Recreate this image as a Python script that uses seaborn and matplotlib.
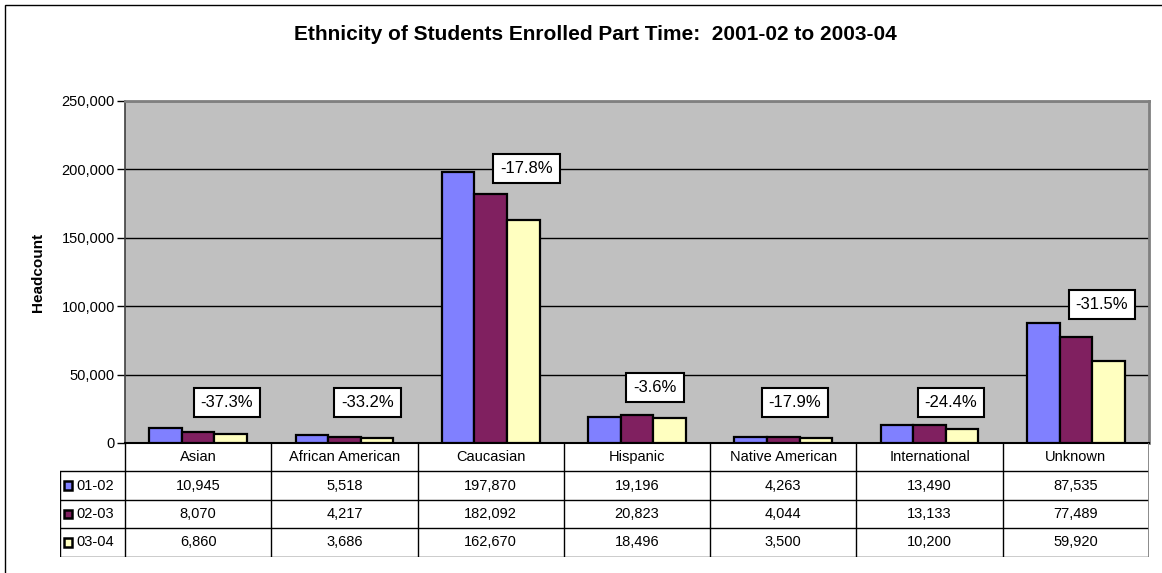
import numpy as np
import pandas as pd
import matplotlib
matplotlib.use("Agg")
import matplotlib.pyplot as plt
import seaborn as sns
from matplotlib.patches import Rectangle
from matplotlib.lines import Line2D

# ---------------- data ----------------
categories = ["Asian", "African American", "Caucasian", "Hispanic",
              "Native American", "International", "Unknown"]
years = ["01-02", "02-03", "03-04"]
v0102 = [10945, 5518, 197870, 19196, 4263, 13490, 87535]
v0203 = [8070, 4217, 182092, 20823, 4044, 13133, 77489]
v0304 = [6860, 3686, 162670, 18496, 3500, 10200, 59920]
yticks = [0, 50000, 100000, 150000, 200000, 250000]

# ---------------- layout / style ----------------
colors = ["#8080FF", "#802060", "#FFFFC0"]
# annotation box centers: (x offset from category centre, y in data units)
label_dx = [0.197, 0.158, 0.246, 0.123, 0.080, 0.146, 0.179]
label_y = [29240, 29240, 200300, 40900, 29240, 29240, 101200]
FS = 10.5

sns.set_theme(style="white")
plt.rcParams["font.family"] = ["Liberation Sans", "DejaVu Sans"]
plt.rcParams["text.color"] = "black"
plt.rcParams["axes.labelcolor"] = "black"
plt.rcParams["xtick.color"] = "black"
plt.rcParams["ytick.color"] = "black"

W, H = 1162, 573
fig = plt.figure(figsize=(W / 100, H / 100), dpi=100)
fig.patch.set_facecolor("white")

# outer chart border (cropped at right/bottom)
fig.add_artist(Rectangle((5 / W, -0.05), 1.2, 1 - 5 / H + 0.05,
                         transform=fig.transFigure, fill=False,
                         edgecolor="black", linewidth=1.0))

px_l, px_r, px_t, px_b = 125, 1149, 101, 443
ax = fig.add_axes([px_l / W, 1 - px_b / H, (px_r - px_l) / W, (px_b - px_t) / H])

df = pd.DataFrame({
    "Ethnicity": categories * 3,
    "Year": [years[0]] * 7 + [years[1]] * 7 + [years[2]] * 7,
    "Headcount": v0102 + v0203 + v0304,
})

sns.barplot(data=df, x="Ethnicity", y="Headcount", hue="Year",
            order=categories, hue_order=years, palette=colors,
            width=0.667, edgecolor="black", linewidth=1.6,
            saturation=1, legend=False, ax=ax, zorder=3)

ax.set_facecolor("#C0C0C0")
ax.set_xlim(-0.5, 6.5)
ax.set_ylim(0, 250000)
ax.set_yticks(yticks)
ax.set_yticklabels([f"{t:,}" for t in yticks], fontsize=FS, color="black")
ax.set_xticks([])
ax.set_xlabel("")
ax.set_ylabel("Headcount", fontsize=11, fontweight="bold", labelpad=12,
              color="black")
ax.yaxis.grid(True, color="black", linewidth=1.0, zorder=0)
ax.set_axisbelow(True)
ax.tick_params(axis="y", which="major", direction="out", length=5.8,
               width=1, color="black", pad=1.5, left=True)
for side in ["top", "right"]:
    ax.spines[side].set_color("#808080")
    ax.spines[side].set_linewidth(2)
ax.spines["left"].set_color("#404040")
ax.spines["left"].set_linewidth(1.2)
ax.spines["bottom"].set_color("black")
ax.spines["bottom"].set_linewidth(1.5)

# percent change labels
for i, cat in enumerate(categories):
    pct = (v0304[i] - v0102[i]) / v0102[i] * 100
    ax.text(i + label_dx[i], label_y[i], f"{pct:.1f}%", ha="center", va="center",
            fontsize=12, zorder=5, color="black",
            bbox=dict(boxstyle="square,pad=0.42", facecolor="white",
                      edgecolor="black", linewidth=1.5))

fig.suptitle("Ethnicity of Students Enrolled Part Time:  2001-02 to 2003-04",
             x=0.512, y=1 - 34 / H, va="center", fontsize=15, fontweight="bold",
             color="black")

# ---------------- data table ----------------
tb_l, tb_t, tb_b = 60, 443, 556.5
tax = fig.add_axes([tb_l / W, 1 - tb_b / H, (px_r - tb_l) / W, (tb_b - tb_t) / H])
xleft = -0.5 - (px_l - tb_l) / ((px_r - px_l) / 7)
tax.set_xlim(xleft, 6.5)
tax.set_ylim(4, 0)
tax.axis("off")

lc = "black"
lw = 1.0
for r in range(1, 5):
    tax.add_line(Line2D([xleft, 6.5], [r, r], color=lc, linewidth=lw))
for k in range(8):
    col = "#808080" if k == 7 else lc
    tax.add_line(Line2D([-0.5 + k, -0.5 + k], [0, 4], color=col,
                        linewidth=2 if k == 7 else lw))
tax.add_line(Line2D([xleft, xleft], [1, 4], color=lc, linewidth=lw))

for i, cat in enumerate(categories):
    tax.text(i, 0.5, cat, ha="center", va="center", fontsize=FS, color="black")

cat_px = (px_r - px_l) / 7
series = [v0102, v0203, v0304]
for r, (yr, vals) in enumerate(zip(years, series)):
    yc = r + 1.5
    sq_w = 8.5 / cat_px
    sq_h = 8.5 / 28.4
    tax.add_patch(Rectangle((xleft + 3.5 / cat_px, yc - sq_h / 2), sq_w, sq_h,
                            facecolor=colors[r], edgecolor="black",
                            linewidth=1.8, transform=tax.transData))
    tax.text(xleft + 16.5 / cat_px, yc, yr, ha="left", va="center", fontsize=FS,
             color="black")
    for i, v in enumerate(vals):
        tax.text(i, yc, f"{v:,}", ha="center", va="center", fontsize=FS,
                 color="black")

fig.savefig("out.png", dpi=100, facecolor="white")
